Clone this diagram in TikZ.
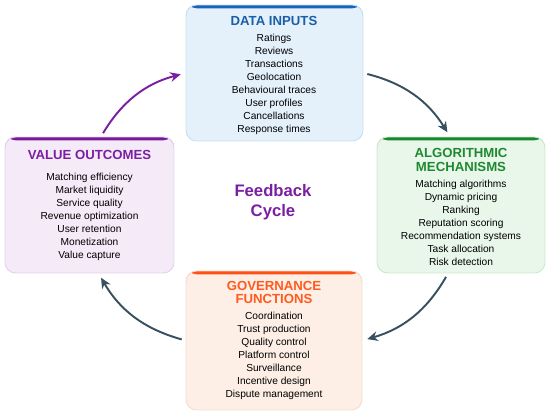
\documentclass[tikz,border=0pt]{standalone}
\usepackage{fontspec}
\setmainfont{Liberation Sans}
\usepackage{tikz}
\usetikzlibrary{positioning,arrows.meta}

\definecolor{dibar}{HTML}{1763BE}
\definecolor{dititle}{HTML}{1A5EA8}
\definecolor{difill}{HTML}{E4F1FB}
\definecolor{diline}{HTML}{C6DFF2}
\definecolor{ambar}{HTML}{15892C}
\definecolor{amtitle}{HTML}{1E8A30}
\definecolor{amfill}{HTML}{E9F6EA}
\definecolor{amline}{HTML}{CBE7CE}
\definecolor{gfbar}{HTML}{FF5016}
\definecolor{gftitle}{HTML}{FF5A1F}
\definecolor{gffill}{HTML}{FDEFE5}
\definecolor{gfline}{HTML}{F5DCCB}
\definecolor{vobar}{HTML}{761C9A}
\definecolor{votitle}{HTML}{7B1FA2}
\definecolor{vofill}{HTML}{F4EAF8}
\definecolor{voline}{HTML}{E2D1EB}
\definecolor{cycgray}{HTML}{37505F}

\begin{document}
\begin{tikzpicture}[x=0.02cm,y=-0.02cm,
  box/.style={draw=#1line, fill=#1fill, line width=0.5pt, rounded corners=6pt,
    inner sep=0pt,
    path picture={\fill[#1bar] (path picture bounding box.north west)
      rectangle ([yshift=-0.065cm]path picture bounding box.north east);}},
  head/.style={text=#1title, font=\fontsize{7.5}{7.9}\selectfont\bfseries,
    align=center, inner sep=0pt},
  items/.style={text=black, font=\fontsize{5.8}{7.4}\selectfont,
    align=center, inner sep=0pt},
  cyc/.style={line width=1.1pt, -{Stealth[length=6pt,width=5.5pt]}, bend left=22}]
\useasboundingbox (0,0) rectangle (550,416);

% boxes
\node[box=di, minimum width=3.54cm, minimum height=2.72cm] (di) at (274.5,73) {};
\node[box=am, minimum width=3.36cm, minimum height=2.72cm] (am) at (461,205) {};
\node[box=gf, minimum width=3.52cm, minimum height=2.78cm] (gf) at (274,340.5) {};
\node[box=vo, minimum width=3.38cm, minimum height=2.72cm] (vo) at (89.5,205) {};

% titles
\node[head=di] (ditext) at (274,21) {DATA INPUTS};
\node[head=am] (amtext) at (461,160) {ALGORITHMIC\\MECHANISMS};
\node[head=gf] (gftext) at (274,292.5) {GOVERNANCE\\FUNCTIONS};
\node[head=vo] (votext) at (89.5,155) {VALUE OUTCOMES};

% lists
\node[items] (dilist) at (274,84.5) {Ratings\\Reviews\\Transactions\\Geolocation\\
  Behavioural traces\\User profiles\\Cancellations\\Response times};
\node[items] (amlist) at (461,222.5) {Matching algorithms\\Dynamic pricing\\Ranking\\
  Reputation scoring\\Recommendation systems\\Task allocation\\Risk detection};
\node[items] (gflist) at (274,355.5) {Coordination\\Trust production\\Quality control\\
  Platform control\\Surveillance\\Incentive design\\Dispute management};
\node[items] (volist) at (89.5,217) {Matching efficiency\\Market liquidity\\Service quality\\
  Revenue optimization\\User retention\\Monetization\\Value capture};

\node[text=votitle, font=\fontsize{9.5}{11.3}\selectfont\bfseries, align=center]
  (cycle) at (273,202) {Feedback\\Cycle};

% cycle arrows
\draw[cyc, votitle, shorten <=0.08cm, shorten >=0.1cm]
  ([xshift=0.23cm]vo.north) to (di.west);
\draw[cyc, cycgray, shorten <=0.08cm, shorten >=0.1cm]
  (di.east) to ([xshift=-0.22cm]am.north);
\draw[cyc, cycgray, shorten <=0.08cm, shorten >=0.1cm]
  ([xshift=-0.26cm]am.south) to (gf.east);
\draw[cyc, cycgray, shorten <=0.08cm, shorten >=0.1cm]
  (gf.west) to ([xshift=0.18cm]vo.south);
\end{tikzpicture}
\end{document}
